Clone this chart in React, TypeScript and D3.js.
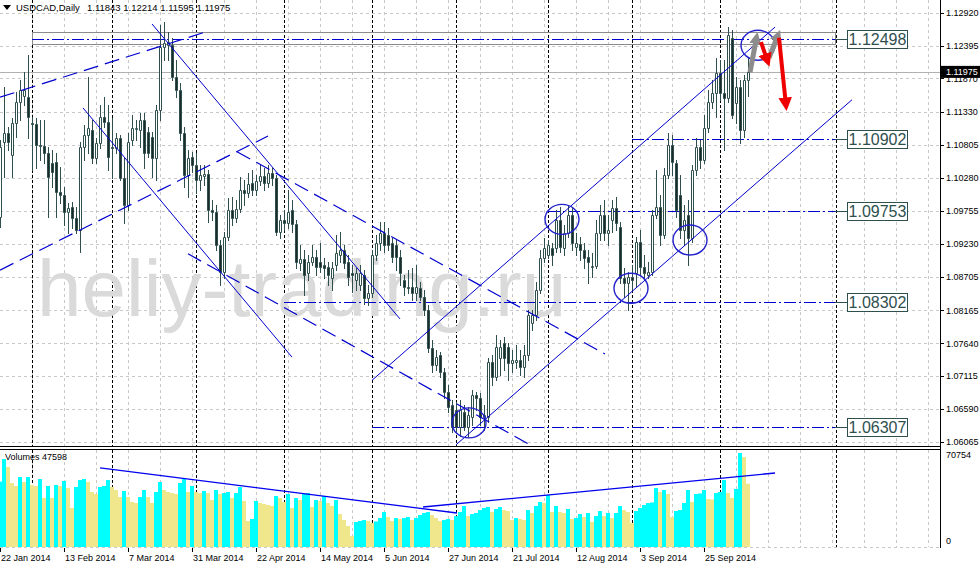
import React from 'react';
import * as d3 from 'd3';

// ---------- DATA ----------
const symbolTitle = 'USDCAD,Daily';
const headerValues = '1.11843 1.12214 1.11595 1.11975';
const watermark = 'heliy-trading.ru';

const dateLabels = ['22 Jan 2014', '13 Feb 2014', '7 Mar 2014', '31 Mar 2014', '22 Apr 2014', '14 May 2014',
  '5 Jun 2014', '27 Jun 2014', '21 Jul 2014', '12 Aug 2014', '3 Sep 2014', '25 Sep 2014'];
const dateLabelBars = [0, 16, 32, 48, 64, 80, 96, 112, 128, 144, 160, 176];
const monthSeparatorBars = [8, 28, 49, 71, 93, 114, 137, 158, 180, 209];
const priceTicks = [1.12920, 1.12395, 1.11870, 1.11330, 1.10805, 1.10280, 1.09755, 1.09230,
  1.08705, 1.08165, 1.07640, 1.07115, 1.06590, 1.06065];

const opens = [
  1.0966, 1.1086, 1.1100, 1.1065, 1.1116, 1.1149, 1.1159, 1.1157, 1.1116, 1.1114,
  1.1081, 1.1079, 1.1068, 1.1052, 1.1054, 1.1006, 1.1001, 1.0974, 1.0982, 1.0964,
  1.0945, 1.1078, 1.1097, 1.1105, 1.1060, 1.1084, 1.1126, 1.1118, 1.1078, 1.1076,
  1.1092, 1.1028, 1.0985, 1.1089, 1.1106, 1.1105, 1.1121, 1.1102, 1.1094, 1.1060,
  1.1137, 1.1237, 1.1240, 1.1240, 1.1189, 1.1169, 1.1100, 1.1033, 1.1062, 1.1049,
  1.1025, 1.1031, 1.1034, 1.0977, 1.0974, 1.0921, 1.0878, 1.0934, 1.0977, 1.0964,
  1.0978, 1.1009, 1.1004, 1.1020, 1.1009, 1.1023, 1.1031, 1.1020, 1.1036, 1.1028,
  1.0942, 1.0961, 1.0956, 1.0977, 1.0955, 1.0892, 1.0899, 1.0876, 1.0894, 1.0902,
  1.0894, 1.0889, 1.0886, 1.0868, 1.0889, 1.0905, 1.0913, 1.0894, 1.0876, 1.0865,
  1.0857, 1.0873, 1.0836, 1.0844, 1.0905, 1.0924, 1.0940, 1.0937, 1.0924, 1.0921,
  1.0902, 1.0865, 1.0854, 1.0854, 1.0844, 1.0852, 1.0838, 1.0817, 1.0757, 1.0729,
  1.0745, 1.0718, 1.0686, 1.0666, 1.0658, 1.0630, 1.0654, 1.0630, 1.0646, 1.0682,
  1.0677, 1.0646, 1.0646, 1.0734, 1.0710, 1.0741, 1.0764, 1.0758, 1.0733, 1.0734,
  1.0737, 1.0726, 1.0745, 1.0796, 1.0809, 1.0849, 1.0900, 1.0905, 1.0916, 1.0916,
  1.0961, 1.0916, 1.0940, 1.0969, 1.0918, 1.0923, 1.0913, 1.0902, 1.0886, 1.0888,
  1.0940, 1.0969, 1.0940, 1.0961, 1.0980, 1.0950, 1.0868, 1.0860, 1.0870, 1.0876,
  1.0926, 1.0886, 1.0873, 1.0878, 1.0969, 1.0982, 1.0937, 1.1033, 1.1081, 1.1052,
  1.1001, 1.0945, 1.0969, 1.0932, 1.1041, 1.1078, 1.1057, 1.1108, 1.1149, 1.1164,
  1.1196, 1.1164, 1.1156, 1.1252, 1.1148, 1.1173, 1.1105, 1.11843];

const highs = [
  1.1089, 1.1173, 1.1110, 1.1124, 1.1165, 1.1185, 1.1197, 1.1225, 1.1126, 1.1124,
  1.1121, 1.1121, 1.1078, 1.1073, 1.1068, 1.1046, 1.1014, 1.0988, 1.0990, 1.0982,
  1.1086, 1.1113, 1.1189, 1.1121, 1.1092, 1.1145, 1.1157, 1.1145, 1.1124, 1.1100,
  1.1097, 1.1060, 1.1100, 1.1129, 1.1121, 1.1132, 1.1132, 1.1110, 1.1102, 1.1145,
  1.1272, 1.1277, 1.1261, 1.1252, 1.1217, 1.1180, 1.1110, 1.1073, 1.1070, 1.1068,
  1.1049, 1.1049, 1.1041, 1.0993, 1.0985, 1.0929, 1.0942, 1.0996, 1.0998, 1.0993,
  1.1030, 1.1025, 1.1036, 1.1041, 1.1033, 1.1049, 1.1044, 1.1049, 1.1044, 1.1033,
  1.0969, 1.0977, 1.1009, 1.0993, 1.0961, 1.0921, 1.0913, 1.0905, 1.0921, 1.0913,
  1.0924, 1.0900, 1.0894, 1.0894, 1.0937, 1.0942, 1.0921, 1.0905, 1.0889, 1.0884,
  1.0889, 1.0881, 1.0857, 1.0913, 1.0937, 1.0958, 1.0958, 1.0948, 1.0932, 1.0929,
  1.0913, 1.0873, 1.0881, 1.0884, 1.0889, 1.0862, 1.0849, 1.0825, 1.0769, 1.0753,
  1.0750, 1.0725, 1.0698, 1.0674, 1.0670, 1.0674, 1.0666, 1.0662, 1.0690, 1.0686,
  1.0685, 1.0666, 1.0741, 1.0745, 1.0777, 1.0769, 1.0774, 1.0764, 1.0753, 1.0761,
  1.0753, 1.0761, 1.0817, 1.0817, 1.0862, 1.0913, 1.0932, 1.0929, 1.0924, 1.0977,
  1.0982, 1.0953, 1.0985, 1.0982, 1.0940, 1.0934, 1.0924, 1.0913, 1.0908, 1.0961,
  1.0985, 1.0993, 1.0969, 1.0993, 1.0998, 1.0958, 1.0884, 1.0878, 1.0889, 1.0934,
  1.0945, 1.0905, 1.0894, 1.0977, 1.1041, 1.1001, 1.1044, 1.1100, 1.1097, 1.1057,
  1.1033, 1.0985, 1.0993, 1.1049, 1.1092, 1.1089, 1.1129, 1.1169, 1.1185, 1.1220,
  1.1217, 1.1217, 1.1269, 1.1264, 1.1189, 1.1185, 1.1193, 1.12214];

const lows = [
  1.0950, 1.1030, 1.1073, 1.1030, 1.1094, 1.1121, 1.1145, 1.1092, 1.1041, 1.1044,
  1.1057, 1.1052, 1.0966, 1.1014, 1.0966, 1.0988, 1.0953, 1.0940, 1.0948, 1.0940,
  1.0910, 1.1057, 1.1068, 1.1052, 1.1052, 1.1076, 1.1110, 1.1041, 1.1028, 1.1068,
  1.1025, 1.0956, 1.0977, 1.1081, 1.1089, 1.1078, 1.1044, 1.1062, 1.1030, 1.1025,
  1.1121, 1.1217, 1.1217, 1.1185, 1.1157, 1.1089, 1.1014, 1.0998, 1.1038, 1.1004,
  1.1009, 1.1017, 1.0958, 1.0961, 1.0913, 1.0857, 1.0868, 1.0929, 1.0953, 1.0958,
  1.0974, 1.0985, 1.0998, 1.1001, 1.1001, 1.1017, 1.1009, 1.1014, 1.1017, 1.0937,
  1.0932, 1.0945, 1.0948, 1.0942, 1.0884, 1.0881, 1.0841, 1.0865, 1.0889, 1.0873,
  1.0878, 1.0868, 1.0857, 1.0849, 1.0881, 1.0894, 1.0884, 1.0857, 1.0846, 1.0849,
  1.0849, 1.0827, 1.0825, 1.0838, 1.0897, 1.0913, 1.0910, 1.0913, 1.0894, 1.0881,
  1.0857, 1.0841, 1.0844, 1.0833, 1.0833, 1.0833, 1.0809, 1.0750, 1.0718, 1.0721,
  1.0710, 1.0677, 1.0654, 1.0622, 1.0621, 1.0616, 1.0626, 1.0614, 1.0634, 1.0658,
  1.0634, 1.0626, 1.0638, 1.0698, 1.0705, 1.0713, 1.0721, 1.0705, 1.0718, 1.0725,
  1.0713, 1.0710, 1.0737, 1.0785, 1.0801, 1.0844, 1.0894, 1.0900, 1.0889, 1.0910,
  1.0910, 1.0905, 1.0934, 1.0913, 1.0905, 1.0897, 1.0884, 1.0860, 1.0870, 1.0884,
  1.0929, 1.0929, 1.0921, 1.0942, 1.0945, 1.0860, 1.0838, 1.0817, 1.0849, 1.0854,
  1.0873, 1.0865, 1.0868, 1.0873, 1.0964, 1.0921, 1.0932, 1.1028, 1.1033, 1.0966,
  1.0932, 1.0921, 1.0889, 1.0926, 1.1033, 1.1044, 1.1052, 1.1102, 1.1140, 1.1126,
  1.1153, 1.1073, 1.1149, 1.1124, 1.1116, 1.1084, 1.1094, 1.11595];

const closes = [
  1.1078, 1.1100, 1.1086, 1.1116, 1.1149, 1.1169, 1.1169, 1.1126, 1.1114, 1.1081,
  1.1079, 1.1068, 1.1030, 1.1038, 1.1006, 1.1001, 1.0974, 1.0980, 1.0964, 1.0945,
  1.1078, 1.1097, 1.1108, 1.1060, 1.1084, 1.1126, 1.1118, 1.1062, 1.1076, 1.1092,
  1.1028, 1.0985, 1.1086, 1.1108, 1.1108, 1.1121, 1.1068, 1.1068, 1.1060, 1.1137,
  1.1237, 1.1244, 1.1245, 1.1189, 1.1169, 1.1100, 1.1033, 1.1060, 1.1049, 1.1025,
  1.1033, 1.1034, 1.0977, 1.0974, 1.0921, 1.0878, 1.0934, 1.0977, 1.0964, 1.0978,
  1.1009, 1.1004, 1.1018, 1.1009, 1.1023, 1.1031, 1.1020, 1.1036, 1.1028, 1.0942,
  1.0961, 1.0956, 1.0974, 1.0955, 1.0894, 1.0899, 1.0873, 1.0894, 1.0902, 1.0886,
  1.0886, 1.0884, 1.0873, 1.0884, 1.0908, 1.0913, 1.0892, 1.0870, 1.0873, 1.0876,
  1.0876, 1.0836, 1.0844, 1.0905, 1.0924, 1.0940, 1.0921, 1.0921, 1.0902, 1.0902,
  1.0876, 1.0854, 1.0852, 1.0844, 1.0854, 1.0838, 1.0817, 1.0757, 1.0729, 1.0742,
  1.0718, 1.0686, 1.0662, 1.0630, 1.0630, 1.0658, 1.0630, 1.0650, 1.0682, 1.0677,
  1.0646, 1.0650, 1.0734, 1.0710, 1.0758, 1.0758, 1.0741, 1.0733, 1.0737, 1.0737,
  1.0726, 1.0745, 1.0809, 1.0809, 1.0849, 1.0900, 1.0916, 1.0921, 1.0905, 1.0961,
  1.0918, 1.0940, 1.0969, 1.0924, 1.0924, 1.0913, 1.0900, 1.0894, 1.0888, 1.0940,
  1.0969, 1.0940, 1.0945, 1.0980, 1.0956, 1.0868, 1.0860, 1.0870, 1.0865, 1.0926,
  1.0886, 1.0876, 1.0878, 1.0969, 1.0982, 1.0937, 1.1033, 1.1081, 1.1054, 1.0977,
  1.0945, 1.0961, 1.0932, 1.1041, 1.1078, 1.1057, 1.1108, 1.1149, 1.1164, 1.1196,
  1.1164, 1.1156, 1.1256, 1.1129, 1.1173, 1.1105, 1.1185, 1.11975];

// tick volumes, in thousands
const volumeThousands = [
  49.2, 66.2, 60.2, 48.2, 45.9, 52.7, 48.9, 52.7, 46.7, 45.9,
  51.2, 36.9, 45.9, 36.9, 46.7, 45.9, 49.7, 44.4, 29.4, 45.2,
  50.4, 51.2, 48.9, 41.4, 39.9, 45.2, 45.9, 50.4, 45.2, 42.9,
  37.6, 42.2, 37.6, 33.9, 33.1, 37.6, 42.9, 37.6, 33.1, 41.4,
  48.9, 42.9, 41.4, 40.6, 39.9, 48.2, 51.9, 41.4, 45.9, 41.4,
  40.6, 42.2, 40.6, 35.4, 42.9, 39.9, 40.6, 41.4, 36.9, 40.6,
  45.2, 34.6, 19.6, 21.1, 34.6, 33.1, 32.4, 31.6, 30.9, 38.4,
  36.9, 33.9, 39.9, 29.4, 36.9, 35.4, 39.9, 40.6, 30.1, 35.4,
  34.6, 38.4, 33.1, 30.9, 35.4, 24.8, 20.3, 15.8, 8.3, 18.8,
  19.6, 20.3, 19.6, 18.1, 19.2, 21.8, 26.3, 22.6, 19.6, 21.8,
  21.1, 21.8, 22.6, 20.3, 21.8, 24.1, 25.6, 26.3, 24.1, 21.8,
  19.6, 20.3, 21.1, 20.3, 23.3, 26.3, 30.9, 23.3, 24.8, 25.6,
  27.8, 29.4, 30.1, 26.3, 28.6, 30.1, 27.8, 27.1, 20.3, 21.8,
  21.1, 20.3, 27.8, 25.6, 30.9, 33.9, 33.1, 39.1, 26.3, 30.9,
  26.3, 25.6, 28.6, 21.1, 21.8, 24.8, 22.6, 25.6, 18.8, 23.3,
  27.1, 23.3, 25.6, 21.8, 25.6, 30.9, 27.8, 26.3, 18.1, 27.1,
  29.4, 31.6, 33.1, 33.5, 44.4, 41.4, 42.9, 39.9, 22.6, 27.1,
  27.8, 33.1, 42.9, 33.9, 39.9, 40.3, 42.9, 36.1, 35.8, 40.6,
  41.4, 50.4, 40.6, 36.9, 43.7, 70.754, 67.7, 47.598];
const volumeMax = 70754;

// horizontal support/resistance levels
const levelPrices = [1.12498, 1.10902, 1.09753, 1.08302, 1.06307];
const levelStartBars = [8, 158, 137, 71, 93];
const levelEndBar = 208.75;
const zoneTop = 1.1261;
const zoneBottom = 1.1242;
const bidPrice = 1.11975;

// trend lines: [bar, price] -> [bar, price]
const solidTrendLines = [
  [[93, 1.0705], [193.75, 1.1269]],
  [[114, 1.0602], [213, 1.1153]],
  [[38, 1.1274], [100, 1.0803]],
  [[20.75, 1.1140], [73, 1.0742]],
];
const dashedTrendLines = [
  [[0, 1.0881], [67, 1.1095]],
  [[0, 1.1157], [52.25, 1.1263]],
  [[59.25, 1.1070], [151.25, 1.0747]],
  [[47, 1.0907], [132.5, 1.0602]],
];
const volumeTrendLines = [
  [[25, 59.5], [114.25, 25.6]],
  [[105.75, 30.1], [193.75, 55.7]],
];
// ellipse markers: bar, price
const circleBars = [117.25, 140.5, 157.75, 172.5, 189.5];
const circlePrices = [1.0637, 1.0962, 1.0852, 1.0929, 1.1240];
// forecast arrows
const grayArrows = [
  [[187.5, 1.1197], [189, 1.1248]],
  [[192.25, 1.1220], [194.25, 1.1252]],
];
const redArrows = [
  [[190.25, 1.1245], [191.6, 1.1220]],
  [[194.75, 1.1252], [196.4, 1.1150]],
];

// ---------- CHART ----------
const FONT = "'Liberation Sans', Arial, sans-serif";
const CANDLE = '#2f4f4f';
const BEAR = '#1c2a2a';
const BLUE = '#0000cd';
const GRID = '#c8c8c8';

export default function App() {
  const x = d3.scaleLinear().domain([0, 235]).range([0, 940]);
  const y = d3.scaleLinear().domain([1.06065, 1.12920]).range([442, 12.7]);
  const yv = d3.scaleLinear().domain([0, volumeMax]).range([547, 453]);
  const line = d3.line<number[]>().x((d) => x(d[0])).y((d) => y(d[1]));
  const vline = d3.line<number[]>().x((d) => x(d[0])).y((d) => yv(d[1] * 1000));

  const gridXs = d3.range(8, 236, 8).map((b) => Math.round(x(b)) + 0.5).filter((v) => v < 940);

  return (
    <svg width={980} height={567} style={{ position: 'fixed', left: 0, top: 0, background: '#fff' }}
      fontFamily={FONT}>
      <defs>
        <clipPath id="mainClip"><rect x={0} y={0} width={940} height={446} /></clipPath>
        <clipPath id="volClip"><rect x={0} y={450} width={940} height={97} /></clipPath>
        <marker id="redHead" viewBox="0 0 10 10" refX="3" refY="5" markerWidth="3.4" markerHeight="3.4" orient="auto">
          <path d="M0,0 L10,5 L0,10 z" fill="#ee0000" />
        </marker>
        <marker id="grayHead" viewBox="0 0 10 10" refX="3" refY="5" markerWidth="2.4" markerHeight="2.4" orient="auto">
          <path d="M0,0 L10,5 L0,10 z" fill="#8c8c8c" />
        </marker>
      </defs>
      <rect x={0} y={0} width={980} height={567} fill="#fff" />

      {/* grid */}
      {priceTicks.map((p, i) => (
        <line key={'hg' + i} x1={0} x2={940} y1={Math.round(y(p)) + 0.5} y2={Math.round(y(p)) + 0.5}
          stroke={GRID} strokeDasharray="3,3" />
      ))}
      {gridXs.map((gx, i) => (
        <g key={'vg' + i}>
          <line x1={gx} x2={gx} y1={0} y2={446} stroke={GRID} strokeDasharray="3,3" />
          <line x1={gx} x2={gx} y1={450} y2={547} stroke={GRID} strokeDasharray="3,3" />
        </g>
      ))}
      <line x1={0} x2={940} y1={547.5} y2={547.5} stroke={GRID} strokeDasharray="3,3" />
      {monthSeparatorBars.map((b, i) => {
        const sx = Math.round(x(b)) + 0.5;
        return (
          <g key={'ms' + i}>
            <line x1={sx} x2={sx} y1={0} y2={446} stroke="#000" strokeDasharray="3,2" />
            <line x1={sx} x2={sx} y1={450} y2={547} stroke="#000" strokeDasharray="3,2" />
          </g>
        );
      })}

      {/* watermark */}
      <text x={37} y={316} fontSize={80} fill="#dadada" fontFamily={FONT}>{watermark}</text>

      <g clipPath="url(#mainClip)">
        {/* zone rectangle and bid line */}
        <rect x={Math.round(x(levelStartBars[0])) + 0.5} y={Math.round(y(zoneTop)) + 0.5}
          width={Math.round(x(levelEndBar) - x(levelStartBars[0]))}
          height={Math.round(y(zoneBottom) - y(zoneTop))} fill="none" stroke="#8a8a8a" />
        <line x1={0} x2={940} y1={Math.round(y(bidPrice)) + 0.5} y2={Math.round(y(bidPrice)) + 0.5}
          stroke="#b0b0b0" />

        {/* levels */}
        {levelPrices.map((p, i) => (
          <line key={'lv' + i} x1={x(levelStartBars[i])} x2={x(levelEndBar)}
            y1={Math.round(y(p)) + 0.5} y2={Math.round(y(p)) + 0.5}
            stroke={BLUE} strokeWidth={1.1} strokeDasharray="12,3,2,3" />
        ))}

        {/* candles */}
        {opens.map((o, i) => {
          const cx = Math.round(x(i));
          const c = closes[i];
          const bull = c >= o;
          const yTop = Math.round(y(Math.max(o, c)));
          const yBot = Math.round(y(Math.min(o, c)));
          const h = Math.max(yBot - yTop, 0);
          return (
            <g key={'c' + i}>
              <line x1={cx + 0.5} x2={cx + 0.5} y1={Math.round(y(highs[i]))} y2={Math.round(y(lows[i])) + 1}
                stroke={CANDLE} />
              <path d={`M${cx - 0.5},${yTop + 0.5}h2v${h}h-2z`} fill={bull ? '#fff' : BEAR} stroke={CANDLE} />
            </g>
          );
        })}

        {/* trend lines */}
        {solidTrendLines.map((l, i) => (
          <path key={'st' + i} d={line(l) || ''} stroke={BLUE} strokeWidth={1} fill="none" />
        ))}
        {dashedTrendLines.map((l, i) => (
          <path key={'dt' + i} d={line(l) || ''} stroke={BLUE} strokeWidth={1.2} strokeDasharray="15,7" fill="none" />
        ))}

        {/* circles */}
        {circleBars.map((b, i) => (
          <ellipse key={'el' + i} cx={x(b)} cy={y(circlePrices[i])} rx={17} ry={15}
            fill="none" stroke="#2222cc" strokeWidth={1.4} />
        ))}

        {/* arrows */}
        {grayArrows.map((a, i) => (
          <path key={'ga' + i} d={line(a) || ''} stroke="#8c8c8c" strokeWidth={5} fill="none"
            markerEnd="url(#grayHead)" />
        ))}
        {redArrows.map((a, i) => (
          <path key={'ra' + i} d={line(a) || ''} stroke="#ee0000" strokeWidth={4} fill="none"
            markerEnd="url(#redHead)" />
        ))}
      </g>

      {/* volumes */}
      <g clipPath="url(#volClip)">
        {volumeThousands.map((v, i) => {
          const up = i === 0 || v > volumeThousands[i - 1];
          const top = yv(v * 1000);
          return (
            <rect key={'v' + i} x={Math.round(x(i)) - 2} y={top} width={4} height={547 - top}
              fill={up ? '#00ffff' : '#f0e68c'} />
          );
        })}
        {volumeTrendLines.map((l, i) => (
          <path key={'vt' + i} d={vline(l) || ''} stroke="#0000ee" strokeWidth={1.3} fill="none" />
        ))}
      </g>

      {/* panel borders */}
      <line x1={0} x2={941} y1={446.5} y2={446.5} stroke="#000" />
      <line x1={0} x2={941} y1={449.5} y2={449.5} stroke="#000" />
      <line x1={940.5} x2={940.5} y1={0} y2={548} stroke="#000" />

      {/* price axis */}
      {priceTicks.map((p, i) => (
        <g key={'pt' + i}>
          <line x1={941} x2={944} y1={Math.round(y(p)) + 0.5} y2={Math.round(y(p)) + 0.5} stroke="#000" />
          <text x={946} y={y(p)} dy="0.35em" fontSize={9} fill="#000">{p.toFixed(5)}</text>
        </g>
      ))}
      <rect x={941} y={y(bidPrice) - 6} width={39} height={12} fill="#000" />
      <text x={946} y={y(bidPrice)} dy="0.35em" fontSize={9} fill="#fff">{bidPrice.toFixed(5)}</text>

      {/* volume axis */}
      <text x={946} y={455} dy="0.35em" fontSize={9} fill="#000">{volumeMax}</text>
      <text x={946} y={541} dy="0.35em" fontSize={9} fill="#000">0</text>
      <text x={5} y={457} dy="0.35em" fontSize={9} fill="#000">
        {'Volumes ' + Math.round(volumeThousands[volumeThousands.length - 1] * 1000)}
      </text>

      {/* date axis */}
      {dateLabels.map((d, i) => {
        const tx = Math.round(x(dateLabelBars[i]));
        return (
          <g key={'dl' + i}>
            <line x1={tx + 0.5} x2={tx + 0.5} y1={548} y2={552} stroke="#000" />
            <text x={tx + 1} y={558} dy="0.35em" fontSize={9} fill="#000">{d}</text>
          </g>
        );
      })}

      {/* level labels */}
      {levelPrices.map((p, i) => {
        const ly = Math.round(y(p)) + 0.5;
        return (
          <g key={'ll' + i}>
            <line x1={x(levelEndBar)} x2={847} y1={ly} y2={ly} stroke={CANDLE} />
            <rect x={847.5} y={ly - 9} width={60} height={18} fill="#fff" stroke={CANDLE} />
            <text x={877.5} y={ly} dy="0.36em" textAnchor="middle" fontSize={16} fill={CANDLE}>{p.toFixed(5)}</text>
          </g>
        );
      })}

      {/* header */}
      <polygon points="3,5 11,5 7,10" fill="#000" />
      <text x={16} y={7.5} dy="0.35em" fontSize={9.5} fill="#000">{symbolTitle}</text>
      <text x={87} y={7.5} dy="0.35em" fontSize={9.5} fill="#000">{headerValues}</text>
    </svg>
  );
}
